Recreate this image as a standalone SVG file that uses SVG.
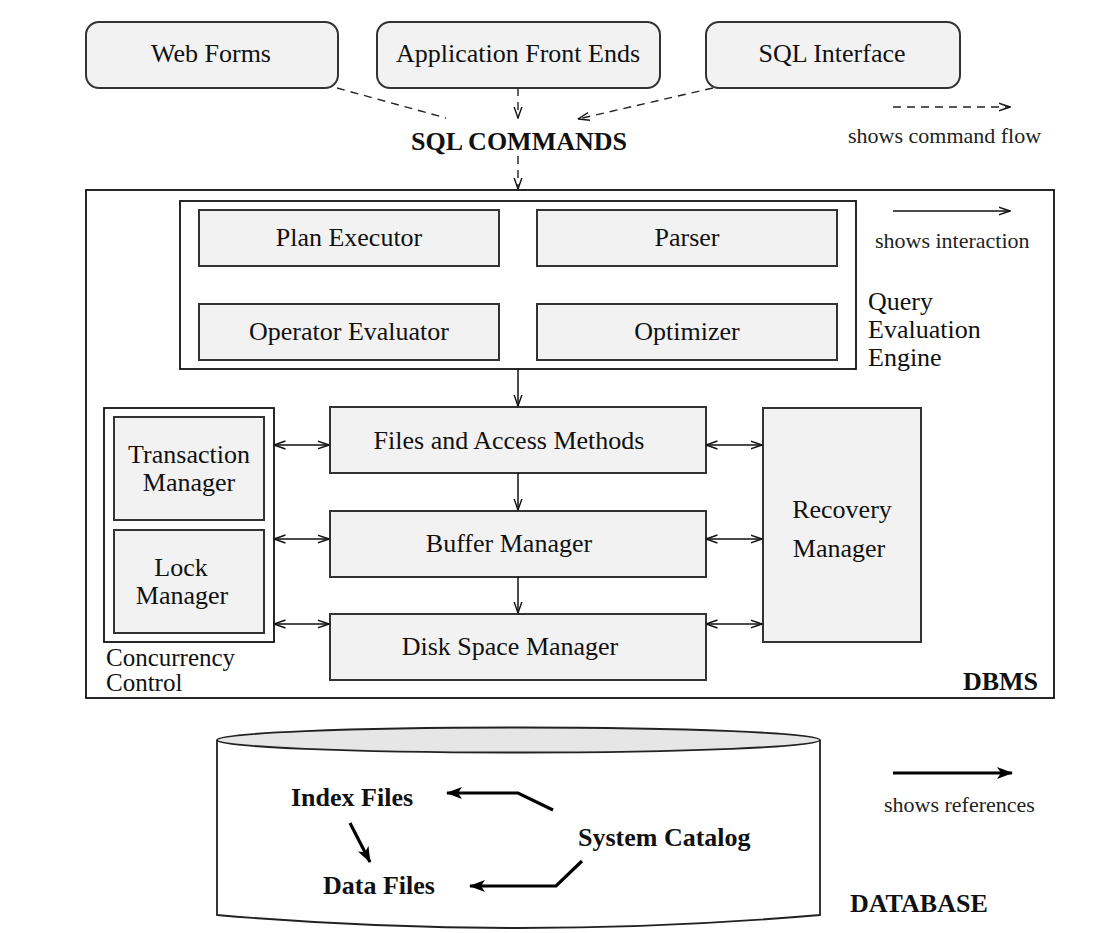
<svg xmlns="http://www.w3.org/2000/svg" width="1120" height="933" viewBox="0 0 1120 933">
<defs>
<style>
.box{fill:#f2f2f2;stroke:#333;stroke-width:2}
.frame{fill:#fff;stroke:#111;stroke-width:1.8}
.t{font-family:"Liberation Serif","Times New Roman",serif;font-size:26px;fill:#111;text-anchor:middle}
.tl{font-family:"Liberation Serif","Times New Roman",serif;font-size:26px;fill:#111}
.b{font-family:"Liberation Serif","Times New Roman",serif;font-size:26px;font-weight:bold;fill:#111}
.s{font-family:"Liberation Serif","Times New Roman",serif;font-size:22px;fill:#222}
.dash{fill:none;stroke:#222;stroke-width:1.4;stroke-dasharray:8,6}
.line{fill:none;stroke:#111;stroke-width:1.5}
.ref{fill:none;stroke:#000;stroke-width:3.2;stroke-linejoin:miter}
</style>
<marker id="open" viewBox="0 0 12 10" refX="11.5" refY="5" markerWidth="12" markerHeight="10" markerUnits="userSpaceOnUse" orient="auto-start-reverse">
<path d="M0,1 L11.5,5 L0,9" fill="none" stroke="#111" stroke-width="1.4"/>
</marker>
<marker id="solid" viewBox="0 0 16 12" refX="15" refY="6" markerWidth="16" markerHeight="12" markerUnits="userSpaceOnUse" orient="auto">
<path d="M0,0 L16,6 L0,12 L4,6Z" fill="#000"/>
</marker>
</defs>
<rect width="1120" height="933" fill="#fff"/>

<g id="web-forms"><rect class="box" x="86" y="22" width="252" height="66" rx="13"/><text class="t" x="211" y="62">Web Forms</text></g>
<g id="app-front-ends"><rect class="box" x="377" y="22" width="283" height="66" rx="13"/><text class="t" x="518" y="62">Application Front Ends</text></g>
<g id="sql-interface"><rect class="box" x="706" y="22" width="254" height="66" rx="13"/><text class="t" x="832" y="62">SQL Interface</text></g>
<g id="sql-commands"><text class="b" x="519" y="150" text-anchor="middle">SQL COMMANDS</text></g>

<g id="dbms"><rect class="frame" x="86" y="190" width="968" height="508"/><text class="b" x="1038" y="690" text-anchor="end">DBMS</text></g>
<g id="query-evaluation-engine"><rect class="frame" x="180" y="201" width="676" height="168"/>
<text class="tl" x="868" y="310">Query</text><text class="tl" x="868" y="338">Evaluation</text><text class="tl" x="868" y="366">Engine</text></g>
<g id="plan-executor"><rect class="box" x="199" y="210" width="300" height="56"/><text class="t" x="349" y="246">Plan Executor</text></g>
<g id="parser"><rect class="box" x="537" y="210" width="300" height="56"/><text class="t" x="687" y="246">Parser</text></g>
<g id="operator-evaluator"><rect class="box" x="199" y="304" width="300" height="56"/><text class="t" x="349" y="340">Operator Evaluator</text></g>
<g id="optimizer"><rect class="box" x="537" y="304" width="300" height="56"/><text class="t" x="687" y="340">Optimizer</text></g>

<g id="concurrency-control"><rect class="frame" x="104" y="408" width="170" height="234"/>
<text class="tl" x="106" y="666" style="font-size:25px">Concurrency</text><text class="tl" x="106" y="691" style="font-size:25px">Control</text></g>
<g id="transaction-manager"><rect class="box" x="114" y="417" width="150" height="103"/><text class="t" x="189" y="463">Transaction</text><text class="t" x="189" y="491">Manager</text></g>
<g id="lock-manager"><rect class="box" x="114" y="530" width="150" height="103"/><text class="t" x="181" y="576">Lock</text><text class="t" x="182" y="604">Manager</text></g>

<g id="files-access-methods"><rect class="box" x="330" y="407" width="376" height="66"/><text class="t" x="509" y="449">Files and Access Methods</text></g>
<g id="buffer-manager"><rect class="box" x="330" y="511" width="376" height="66"/><text class="t" x="509" y="552">Buffer Manager</text></g>
<g id="disk-space-manager"><rect class="box" x="330" y="614" width="376" height="66"/><text class="t" x="510" y="655">Disk Space Manager</text></g>
<g id="recovery-manager"><rect class="box" x="763" y="408" width="158" height="234"/><text class="t" x="842" y="518">Recovery</text><text class="t" x="839" y="557">Manager</text></g>

<g id="database">
<path d="M217,740 L217,915 Q518,941 820,915 L820,740" fill="#fff" stroke="#222" stroke-width="1.8"/>
<ellipse cx="518.5" cy="740" rx="301.5" ry="12.5" fill="#e6e6e6" stroke="#222" stroke-width="1.8"/>
<text class="b" x="850" y="912">DATABASE</text>
</g>
<g id="index-files"><text class="b" x="291" y="806">Index Files</text></g>
<g id="data-files"><text class="b" x="323" y="894">Data Files</text></g>
<g id="system-catalog"><text class="b" x="578" y="846">System Catalog</text></g>

<g id="legend">
<text class="s" x="848" y="143">shows command flow</text>
<text class="s" x="875" y="248">shows interaction</text>
<text class="s" x="884" y="812">shows references</text>
</g>

<g id="connectors">
<path class="dash" d="M337,88 L446,118"/>
<path class="dash" d="M518,88 L518,118" marker-end="url(#open)"/>
<path class="dash" d="M713,88 L578,119" marker-end="url(#open)"/>
<path class="dash" d="M518,156 L518,189" marker-end="url(#open)"/>
<path class="dash" d="M893,107 L1010,107" marker-end="url(#open)"/>
<path class="line" d="M893,211 L1010,211" marker-end="url(#open)"/>
<path class="line" d="M518,369 L518,406" marker-end="url(#open)"/>
<path class="line" d="M518,473 L518,510" marker-end="url(#open)"/>
<path class="line" d="M518,577 L518,613" marker-end="url(#open)"/>
<path class="line" d="M274,445 L329,445" marker-start="url(#open)" marker-end="url(#open)"/>
<path class="line" d="M274,539 L329,539" marker-start="url(#open)" marker-end="url(#open)"/>
<path class="line" d="M274,624 L329,624" marker-start="url(#open)" marker-end="url(#open)"/>
<path class="line" d="M706,445 L762,445" marker-start="url(#open)" marker-end="url(#open)"/>
<path class="line" d="M706,539 L762,539" marker-start="url(#open)" marker-end="url(#open)"/>
<path class="line" d="M706,624 L762,624" marker-start="url(#open)" marker-end="url(#open)"/>
<path class="ref" d="M893,773 L1012,773" marker-end="url(#solid)"/>
<path class="ref" d="M553,810 L518,793 L447,793" marker-end="url(#solid)"/>
<path class="ref" d="M350,823 L370,862" marker-end="url(#solid)"/>
<path class="ref" d="M582,861 L556,886 L470,886" marker-end="url(#solid)"/>
</g>
</svg>
